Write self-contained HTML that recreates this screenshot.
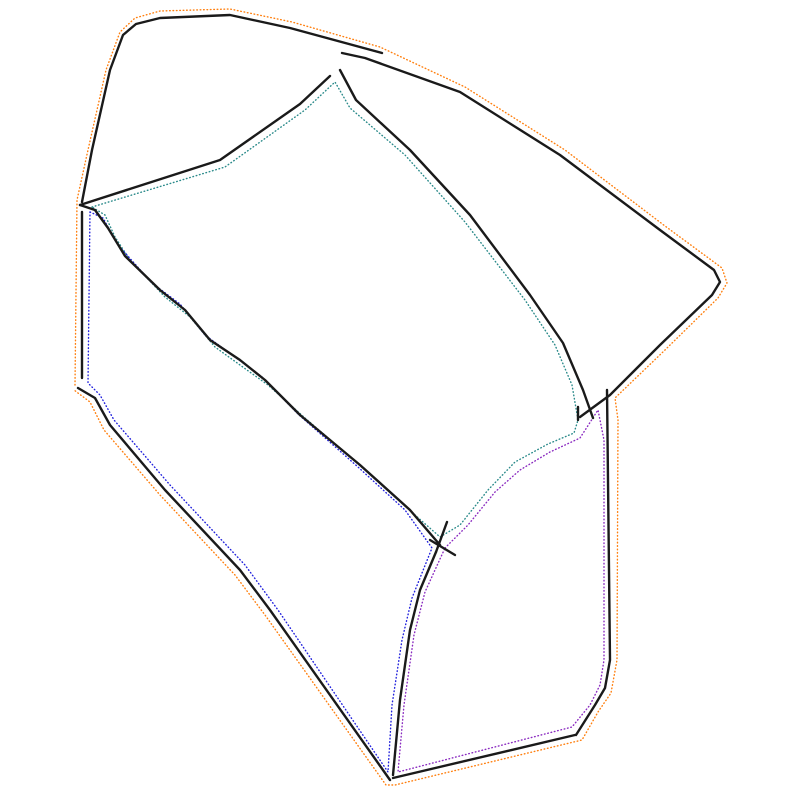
<!DOCTYPE html>
<html><head><meta charset="utf-8"><style>
html,body{margin:0;padding:0;background:#fff;}
svg{display:block;}
</style></head><body>
<svg width="800" height="800" viewBox="0 0 800 800" xmlns="http://www.w3.org/2000/svg">
<g fill="none" stroke-linejoin="round">
 <g stroke-width="1.4" stroke-dasharray="0.6,2.8" stroke-linecap="round">
 <path stroke="#ff7f0e"
  d="M75,385 L77,200 L88,150 L106,70 L120,32 L135,18 L160,11 L230,9 L292,22 L380,47 L465,87 L565,150 L665,226 L722,268 L727,283 L718,298 L665,350 L615,398 L618,420 L617,660 L611,693 L598,712 L582,740 L395,785 L386,785 L265,615 L235,575 L160,495 L104,430 L90,402 L74,390"/>
 <path stroke="#2a8a8a"
  d="M92,207 L225,167 L305,110 L335,82 L350,108 L405,155 L465,222 L525,300 L555,345 L572,385 L578,420 L574,433 L548,444 L515,462 L488,490 L460,525 L440,537 L415,515 L365,470 L305,418 L268,385 L240,365 L215,347 L190,317 L165,297 L130,260 L115,237 L105,215 Z"/>
 <path stroke="#2222dd"
  d="M90,212 L103,218 L118,245 L152,283 L180,304 L205,335 L235,357 L262,377 L298,414 L358,467 L405,510 L432,548 L412,598 L402,640 L392,705 L388,772 L278,610 L245,565 L170,485 L114,420 L100,395 L88,383 Z"/>
 <path stroke="#8a2ac0"
  d="M445,548 L468,525 L495,492 L520,470 L550,452 L580,438 L598,410 L604,440 L604,660 L600,685 L590,705 L572,727 L398,772 L404,705 L414,635 L425,592 Z"/>
 </g>
 <g stroke="#1a1a1a" stroke-width="2.4" stroke-linecap="round">
  <path d="M82,202 L92,150 L110,70 L123,35 L136,24 L160,18 L230,15 L290,28 L382,53"/>
  <path d="M342,53 L365,58 L460,92 L560,155 L660,230 L714,270 L720,282 L712,295 L660,345 L610,395 L580,417"/>
  <path d="M80,205 L220,160 L300,104 L330,76"/>
  <path d="M340,70 L356,100 L410,150 L470,215 L530,295 L563,343 L583,390 L593,418"/>
  <path d="M80,205 L95,210 L108,228 L125,256 L160,290 L185,310 L210,340 L240,360 L265,380 L300,415 L360,465 L410,510 L440,545"/>
  <path d="M82,212 L82,378"/>
  <path d="M78,388 L95,398 L110,425 L165,490 L240,570 L270,610 L390,780"/>
  <path d="M430,540 L455,555"/>
  <path d="M447,522 L436,552"/>
  <path d="M436,552 L420,590 L410,630 L400,700 L393,775"/>
  <path d="M393,778 L575,735"/>
  <path d="M576,735 L595,705 L605,688 L610,660 L607,390"/>
  <path d="M578,407 L578,420"/>
 </g>
</g>
</svg>
</body></html>
